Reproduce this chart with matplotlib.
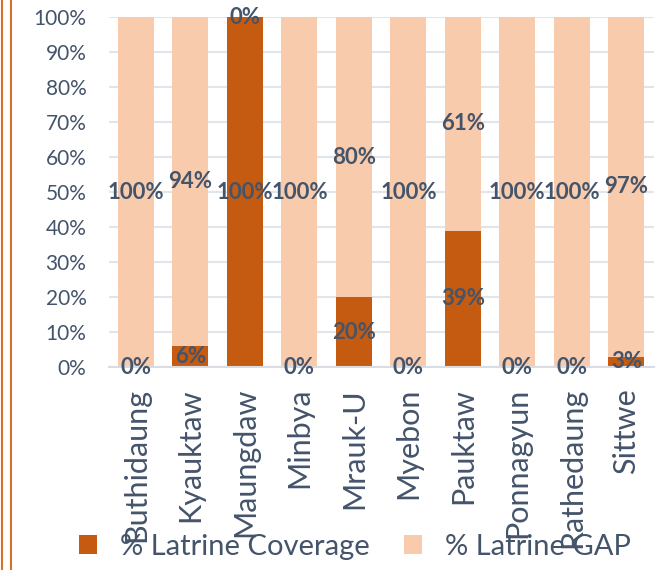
import matplotlib
matplotlib.use("Agg")
import matplotlib.pyplot as plt
from matplotlib.lines import Line2D
from matplotlib.ticker import PercentFormatter

# data
townships = ["Buthidaung", "Kyauktaw", "Maungdaw", "Minbya", "Mrauk-U",
             "Myebon", "Pauktaw", "Ponnagyun", "Rathedaung", "Sittwe"]
coverage = [0, 6, 100, 0, 20, 0, 39, 0, 0, 3]
gap = [100, 94, 0, 100, 80, 100, 61, 100, 100, 97]
y_ticks = [0, 10, 20, 30, 40, 50, 60, 70, 80, 90, 100]

COV_COLOR = "#C55A11"
GAP_COLOR = "#F8CBAD"
TEXT_COLOR = "#44546A"
GRID_COLOR = "#E2E5EA"

plt.rcParams["font.family"] = ["Lato", "DejaVu Sans"]

fig = plt.figure(figsize=(6.71, 5.70), dpi=100)
ax = fig.add_axes([0.162, 0.356, 0.812, 0.614])

x = range(len(townships))
b1 = ax.bar(x, coverage, width=0.66, color=COV_COLOR, label="% Latrine Coverage", zorder=2)
b2 = ax.bar(x, gap, width=0.66, bottom=coverage, color=GAP_COLOR, label="% Latrine GAP", zorder=2)

for bars, vals in ((b1, coverage), (b2, gap)):
    ax.bar_label(bars, labels=[f"{v}%" for v in vals], label_type="center",
                 fontsize=16, fontweight="bold", color=TEXT_COLOR, zorder=3)

ax.set_xlim(-0.5, len(townships) - 0.5)
ax.set_ylim(0, 100)
ax.set_yticks(y_ticks)
ax.yaxis.set_major_formatter(PercentFormatter(decimals=0))
ax.set_xticks(list(x))
ax.set_xticklabels(townships, rotation=90)
ax.tick_params(axis="y", length=0, pad=16, labelsize=15, labelcolor=TEXT_COLOR)
ax.tick_params(axis="x", length=0, pad=15, labelsize=22, labelcolor=TEXT_COLOR)

ax.grid(axis="y", color=GRID_COLOR, linewidth=1.5, zorder=0)
ax.set_axisbelow(True)
for side in ("top", "left", "right"):
    ax.spines[side].set_visible(False)
ax.spines["bottom"].set_color("#D9DDE3")
ax.spines["bottom"].set_linewidth(1.5)

fig.legend(handles=[b1, b2], loc="center", bbox_to_anchor=(0.529, 0.040), ncol=2,
           frameon=False, fontsize=21, labelcolor=TEXT_COLOR,
           handlelength=0.62, handleheight=0.62, handletextpad=0.8, columnspacing=1.15)

# the double orange rule down the left edge
for xpos in (1.5 / 671, 11 / 671):
    fig.add_artist(Line2D([xpos, xpos], [0, 1], color="#D4722A", linewidth=1.5,
                          transform=fig.transFigure))

fig.savefig("out.png", dpi=100)
